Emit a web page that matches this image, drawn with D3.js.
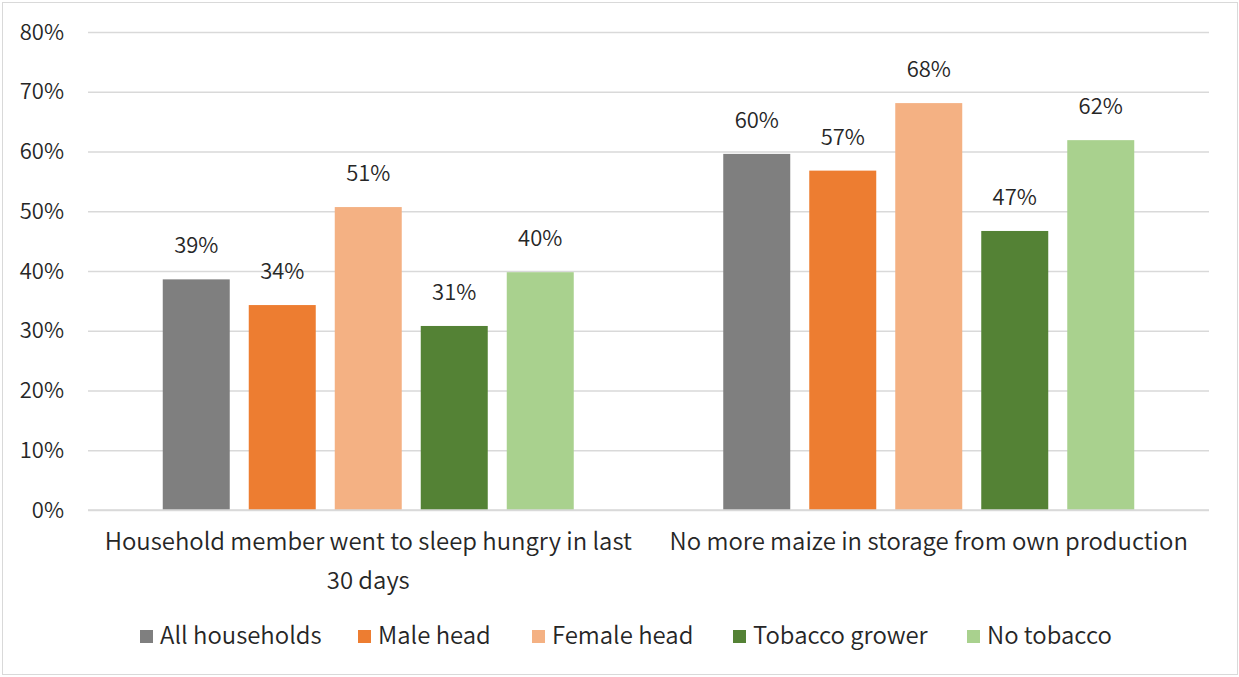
<!DOCTYPE html>
<html>
<head>
<meta charset="utf-8">
<script src="https://cdn.jsdelivr.net/npm/d3@7"></script>
<style>
  html, body { margin: 0; padding: 0; background: #ffffff; }
  svg { display: block; }
  text { font-family: "Noto Sans CJK JP", "Noto Sans", sans-serif; font-weight: 350; }
</style>
</head>
<body>
<svg id="chart" width="1239" height="677"></svg>
<script>
// ---- data ----
const categories = [
  ["Household member went to sleep hungry in last", "30 days"],
  ["No more maize in storage from own production"]
];
const seriesNames = ["All households", "Male head", "Female head", "Tobacco grower", "No tobacco"];
const allHouseholds = [38.6, 59.6];
const maleHead      = [34.3, 56.8];
const femaleHead    = [50.7, 68.1];
const tobaccoGrower = [30.8, 46.7];
const noTobacco     = [39.8, 61.9];
const yTicks = [0, 10, 20, 30, 40, 50, 60, 70, 80];
const colors = ["#7f7f7f", "#ed7d31", "#f4b183", "#548235", "#a9d18e"];

const seriesValues = [allHouseholds, maleHead, femaleHead, tobaccoGrower, noTobacco];

// ---- layout ----
const margin = { left: 88, right: 1209, top: 32, bottom: 510 };
const svg = d3.select("#chart");
const textColor = "#262626";
const fsNum = 22;
const fsWord = 23.9;

// border
svg.append("rect")
  .attr("x", 2.5).attr("y", 2.5)
  .attr("width", 1235).attr("height", 672)
  .attr("fill", "#ffffff")
  .attr("stroke", "#d9d9d9").attr("stroke-width", 1);

const catIdx = categories.map((d, i) => i);
const x0 = d3.scaleBand().domain(catIdx).range([margin.left, margin.right]).padding(0);
const x1 = d3.scaleBand().domain(seriesNames).range([-205.5, 205.5]).paddingInner(0.221).paddingOuter(0);
const y = d3.scaleLinear().domain([0, 80]).range([margin.bottom, margin.top]);

// gridlines + y labels
const yAxis = d3.axisLeft(y)
  .tickValues(yTicks)
  .tickSize(-(margin.right - margin.left))
  .tickPadding(24)
  .tickFormat(d => d + "%");
const gy = svg.append("g")
  .attr("transform", `translate(${margin.left},0)`)
  .call(yAxis);
gy.select(".domain").remove();
gy.selectAll(".tick line").attr("stroke", "#d9d9d9").attr("stroke-width", 1.3);
gy.selectAll(".tick text")
  .attr("fill", textColor)
  .style("font-size", fsNum + "px")
  .style("font-family", '"Noto Sans CJK JP", "Noto Sans", sans-serif')
  .style("font-weight", 350);

// bars
const groups = svg.append("g").selectAll("g")
  .data(catIdx)
  .join("g")
  .attr("transform", i => `translate(${x0(i) + x0.bandwidth() / 2},0)`);

groups.each(function (ci) {
  const g = d3.select(this);
  seriesNames.forEach((s, si) => {
    const v = seriesValues[si][ci];
    g.append("rect")
      .attr("x", x1(s))
      .attr("y", y(v))
      .attr("width", x1.bandwidth())
      .attr("height", y(0) - y(v))
      .attr("fill", colors[si]);
    g.append("text")
      .attr("x", x1(s) + x1.bandwidth() / 2)
      .attr("y", y(v) - 26)
      .attr("text-anchor", "middle")
      .attr("fill", textColor)
      .style("font-size", fsNum + "px")
      .text(Math.round(v) + "%");
  });
});

// baseline
svg.append("line")
  .attr("x1", margin.left).attr("x2", margin.right)
  .attr("y1", y(0)).attr("y2", y(0))
  .attr("stroke", "#d9d9d9").attr("stroke-width", 1.3);

// category labels
categories.forEach((lines, i) => {
  const t = svg.append("text")
    .attr("text-anchor", "middle")
    .attr("fill", textColor)
    .style("font-size", fsWord + "px");
  lines.forEach((ln, li) => {
    t.append("tspan")
      .attr("x", x0(i) + x0.bandwidth() / 2)
      .attr("y", 550 + li * 39)
      .text(ln);
  });
});

// legend
const legendX = [140, 358, 532, 733, 967];
const lg = svg.append("g");
seriesNames.forEach((s, si) => {
  lg.append("rect")
    .attr("x", legendX[si]).attr("y", 630)
    .attr("width", 13).attr("height", 13)
    .attr("fill", colors[si]);
  lg.append("text")
    .attr("x", legendX[si] + 20).attr("y", 644)
    .attr("fill", textColor)
    .style("font-size", fsWord + "px")
    .text(s);
});
</script>
</body>
</html>
